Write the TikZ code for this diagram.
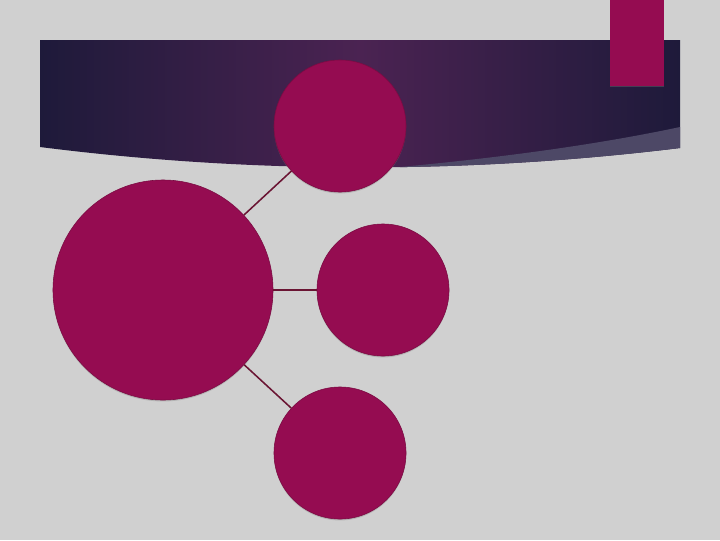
\documentclass[tikz,border=0pt]{standalone}
\usetikzlibrary{shadows}

\definecolor{slidegray}{HTML}{D0D0D0}
\definecolor{bannerdark}{HTML}{1E1A3A}
\definecolor{bannermid}{HTML}{4B2352}
\definecolor{bannerlight}{HTML}{4D4866}
\definecolor{berry}{HTML}{950C51}
\definecolor{berryedge}{HTML}{7A0B42}
\definecolor{linkline}{HTML}{6A1433}

\tikzset{
  bubble/.style={circle,fill=berry,draw=berryedge,line width=0.4pt,inner sep=0pt,
    drop shadow={opacity=0.35,shadow xshift=0pt,shadow yshift=-1pt}},
  link/.style={draw=linkline,line width=1.1pt}
}

\begin{document}
\begin{tikzpicture}[x=0.025cm,y=-0.025cm]
\fill[slidegray] (0,0) rectangle (720,540);
\useasboundingbox (0,0) rectangle (720,540);
\shade[left color=bannerdark,right color=bannerdark,middle color=bannermid]
  (40,40) -- (680,40) -- (680,148) .. controls (467,174) and (253,174) .. (40,147) -- cycle;
\begin{scope}
\clip (40,40) -- (680,40) -- (680,148) .. controls (467,174) and (253,174) .. (40,147) -- cycle;
\fill[bannerlight] (680,127) .. controls (600,144) and (507,157) .. (400,167) -- (400,220) -- (700,220) -- (700,127) -- cycle;
\end{scope}
\fill[berry,drop shadow={opacity=0.35,shadow xshift=0pt,shadow yshift=-1pt}] (610,0) rectangle (664,86);
\node[bubble,minimum size=5.5cm] (core) at (163,290) {};
\node[bubble,minimum size=3.3cm] (top) at (340,126) {};
\node[bubble,minimum size=3.3cm] (mid) at (383,290) {};
\node[bubble,minimum size=3.3cm] (low) at (340,453) {};
\draw[link] (core) -- (top);
\draw[link] (core) -- (mid);
\draw[link] (core) -- (low);
\end{tikzpicture}
\end{document}
